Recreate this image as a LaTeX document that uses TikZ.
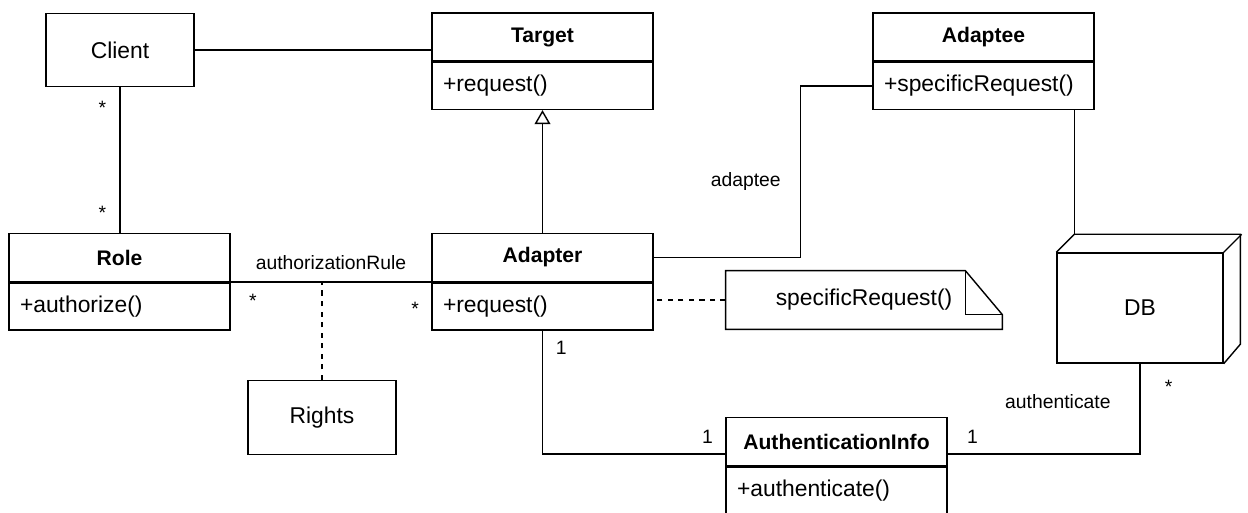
\documentclass[tikz,border=0pt]{standalone}
\usepackage{fontspec}
\setmainfont{Liberation Sans}
\usepackage{tikz}
\usetikzlibrary{positioning, calc, arrows.meta}
\tikzstyle{classhead} = [rectangle, minimum width=4.42cm, minimum height=0.96cm, inner sep=0pt, text centered, draw=black, line width=0.8pt, font=\fontsize{12}{14}\selectfont\bfseries]
\tikzstyle{classbody} = [rectangle, minimum height=0.94cm, text width=3.98cm, inner xsep=0.22cm, inner ysep=0pt, align=left, draw=black, line width=0.8pt, font=\fontsize{13}{15}\selectfont]
\tikzstyle{plainbox} = [rectangle, minimum width=2.96cm, minimum height=1.47cm, inner sep=0pt, text centered, draw=black, line width=0.8pt, font=\fontsize{13}{15}\selectfont]
\tikzstyle{notebox} = [rectangle, minimum width=5.52cm, minimum height=1.16cm, inner sep=0pt, text centered, font=\fontsize{13}{15}\selectfont]
\tikzstyle{dbbox} = [rectangle, minimum width=3.32cm, minimum height=2.2cm, inner sep=0pt, text centered, draw=black, line width=0.8pt, font=\fontsize{13}{15}\selectfont]
\tikzstyle{lbl} = [inner sep=1pt, font=\fontsize{11}{13}\selectfont]
\tikzstyle{line} = [line width=0.8pt]
\tikzstyle{realize} = [line width=0.8pt, -{Triangle[open, length=8pt, width=9pt]}]
\tikzstyle{dep} = [line width=0.8pt, dashed]

\begin{document}
\begin{tikzpicture}
\useasboundingbox (0,0) rectangle (24.96,10.26);
% NODES
\node (client) [plainbox] at (2.4,9.26) {Client};

\node (target) [classhead] at (10.85,9.52) {Target};
\node (target-ops) [classbody, below=0pt of target] {+request()};

\node (adaptee) [classhead] at (19.67,9.52) {Adaptee};
\node (adaptee-ops) [classbody, below=0pt of adaptee] {+specificRequest()};

\node (role) [classhead] at (2.39,5.11) {Role};
\node (role-ops) [classbody, below=0pt of role] {+authorize()};

\node (adapter) [classhead] at (10.85,5.11) {Adapter};
\node (adapter-ops) [classbody, below=0pt of adapter] {+request()};

\node (note) [notebox] at (17.28,4.26) {specificRequest()};
\node (db) [dbbox] at (22.8,4.1) {DB};
\node (rights) [plainbox] at (6.44,1.91) {Rights};

\node (auth) [classhead] at (16.73,1.43) {AuthenticationInfo};
\node (auth-ops) [classbody, below=0pt of auth] {+authenticate()};

% note with folded corner
\draw [line] (note.north west) -- ($(note.north east)+(-0.74,0)$) -- ($(note.north east)+(0,-0.88)$) -- (note.south east) -- (note.south west) -- cycle;
\draw [line] ($(note.north east)+(-0.74,0)$) |- ($(note.north east)+(0,-0.88)$);

% db as a box
\coordinate (db-back) at ($(db.north west)+(0.36,0.36)$);
\draw [line] (db.north west) -- (db-back) -- ++(3.32,0) -- ++(0,-2.2) -- (db.south east);
\draw [line] (db.north east) -- ++(0.36,0.36);

% ARROWS
\draw [line] (client.east) -- (client.east -| target.west);
\draw [line] (client.south) -- node[lbl, left=0.23cm, pos=0.14] {*} node[lbl, left=0.23cm, pos=0.86] {*} (client.south |- role.north);

\draw [realize] (adapter.north) -- (target-ops.south);

\draw [line] (adapter.east) -- ++(2.94,0) |- node[lbl, left=0.35cm, pos=0.22] {adaptee} (adaptee-ops.west);
\draw [line] (db-back) -- (db-back |- adaptee-ops.south);

\draw [line] (role.south east) -- node[lbl, above=0.2cm] {authorizationRule} node[lbl, below=0.2cm, pos=0.11] {*} node[lbl, below=0.36cm, pos=0.92] {*} coordinate[pos=0.455] (rule) (adapter.south west);
\draw [dep] (rights.north) -- (rights.north |- rule);

\draw [dep] (note.west) -- (note.west -| adapter-ops.east);

\draw [line] (adapter-ops.south) |- node[lbl, right=0.22cm, pos=0.07] {1} node[lbl, above left=0.16cm and 0.2cm, pos=1] {1} ([yshift=-0.25cm]auth.west);
\draw [line] ([yshift=-0.25cm]auth.east) -| node[lbl, above right=0.16cm and 0.34cm, pos=0] {1} node[lbl, left=0.54cm, pos=0.79] {authenticate} node[lbl, below right=0.28cm and 0.45cm, pos=1] {*} (db.south);
\end{tikzpicture}
\end{document}
